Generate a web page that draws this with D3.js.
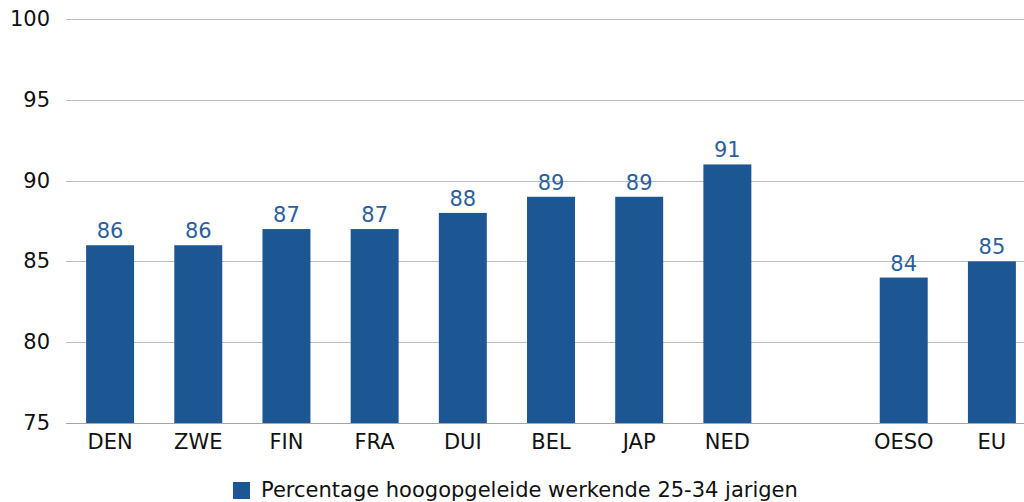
<!DOCTYPE html>
<html>
<head>
<meta charset="utf-8">
<script src="https://cdn.jsdelivr.net/npm/d3@7"></script>
<style>
  body { margin: 0; background: #fff; }
  text { font-family: "DejaVu Sans", Verdana, sans-serif; }
</style>
</head>
<body>
<svg id="chart" width="1024" height="502"></svg>
<script>
// data
const categories = ["DEN", "ZWE", "FIN", "FRA", "DUI", "BEL", "JAP", "NED", "", "OESO", "EU"];
const values = [86, 86, 87, 87, 88, 89, 89, 91, null, 84, 85];
const yTicks = [75, 80, 85, 90, 95, 100];
const seriesName = "Percentage hoogopgeleide werkende 25-34 jarigen";

const barColor = "#1c5693";
const labelColor = "#2b5f9e";
const fontSize = 21;

const svg = d3.select("#chart");
const margin = { top: 19, left: 66, bottom: 423 };

const x = d3.scaleBand()
    .domain(categories)
    .range([margin.left, 1036])
    .paddingInner(0.456)
    .paddingOuter(0.228);

const y = d3.scaleLinear()
    .domain([75, 100])
    .range([margin.bottom, margin.top]);

// gridlines
svg.append("g")
    .selectAll("line")
    .data(yTicks)
    .join("line")
    .attr("x1", margin.left)
    .attr("x2", 1024)
    .attr("y1", d => Math.round(y(d)) + 0.5)
    .attr("y2", d => Math.round(y(d)) + 0.5)
    .attr("stroke", d => d === 75 ? "#a6a6a6" : "#bcbcbc")
    .attr("stroke-width", 1);

// y tick labels
svg.append("g")
    .selectAll("text")
    .data(yTicks)
    .join("text")
    .attr("x", 50)
    .attr("y", d => y(d) + 7)
    .attr("text-anchor", "end")
    .attr("font-size", fontSize)
    .attr("fill", "#111")
    .text(d => d);

const data = categories.map((c, i) => ({ cat: c, val: values[i] })).filter(d => d.val !== null);

// bars
svg.append("g")
    .selectAll("rect")
    .data(data)
    .join("rect")
    .attr("x", d => x(d.cat))
    .attr("width", x.bandwidth())
    .attr("y", d => y(d.val))
    .attr("height", d => y(75) - y(d.val))
    .attr("fill", barColor);

// value labels
svg.append("g")
    .selectAll("text")
    .data(data)
    .join("text")
    .attr("x", d => x(d.cat) + x.bandwidth() / 2)
    .attr("y", d => y(d.val) - 7)
    .attr("text-anchor", "middle")
    .attr("font-size", fontSize)
    .attr("fill", labelColor)
    .text(d => d.val);

// category labels
svg.append("g")
    .selectAll("text")
    .data(data)
    .join("text")
    .attr("x", d => x(d.cat) + x.bandwidth() / 2)
    .attr("y", 449)
    .attr("text-anchor", "middle")
    .attr("font-size", fontSize)
    .attr("fill", "#111")
    .text(d => d.cat);

// legend
const legend = svg.append("g").attr("transform", "translate(233,482)");
legend.append("rect")
    .attr("width", 17)
    .attr("height", 17)
    .attr("fill", barColor);
legend.append("text")
    .attr("x", 28)
    .attr("y", 15)
    .attr("font-size", fontSize)
    .attr("fill", "#111")
    .text(seriesName);
</script>
</body>
</html>
